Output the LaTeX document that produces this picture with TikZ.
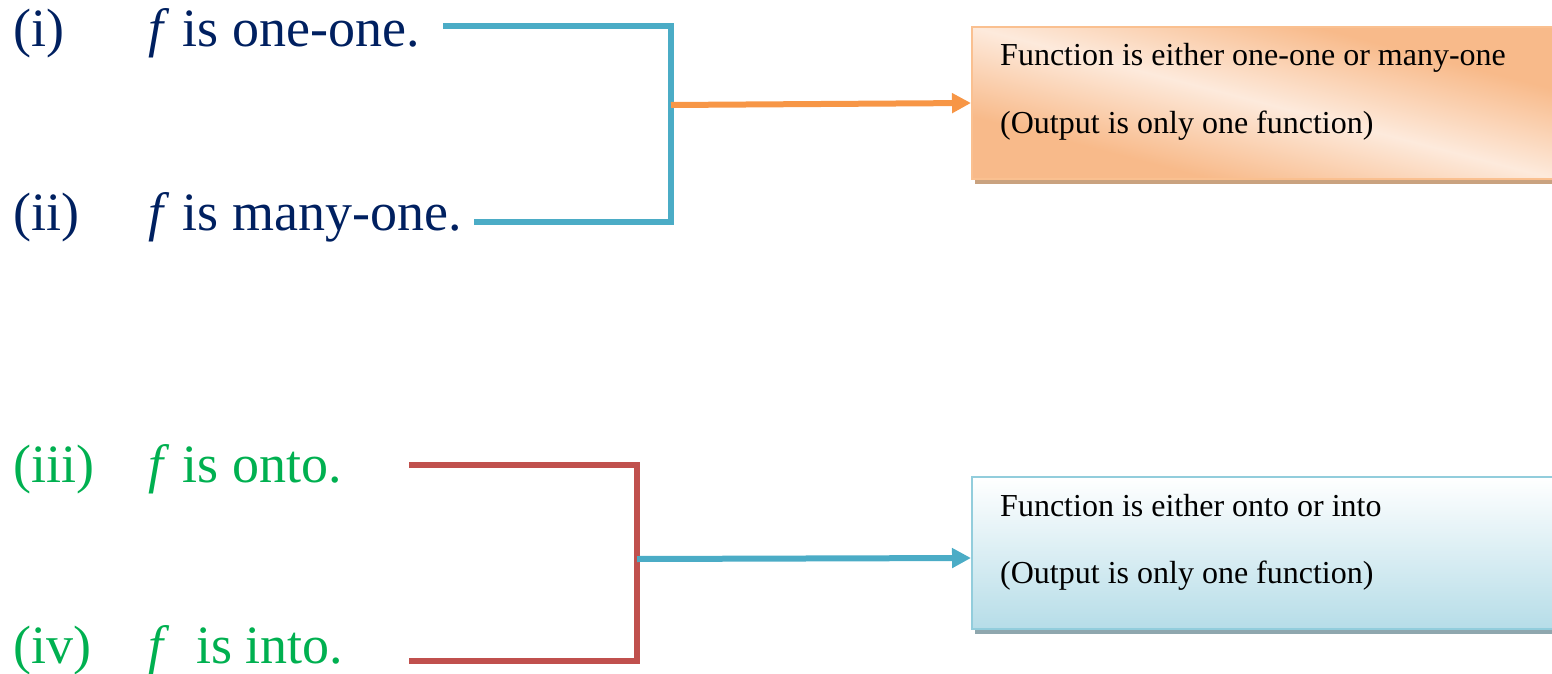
\documentclass[tikz,border=0pt]{standalone}
\usepackage{fontspec}
\setmainfont{Liberation Serif}
\usetikzlibrary{arrows.meta,shadows,shadings}

\definecolor{navytext}{HTML}{002060}
\definecolor{greentext}{HTML}{00B050}
\definecolor{accblue}{HTML}{4BACC6}
\definecolor{accorange}{HTML}{F79646}
\definecolor{accred}{HTML}{C0504D}
\definecolor{peachlight}{HTML}{FDEADC}
\definecolor{peachdark}{HTML}{F8BA8A}
\definecolor{peachedge}{HTML}{FAC090}
\definecolor{peachshadow}{HTML}{C9A27F}
\definecolor{aqualight}{HTML}{FFFFFF}
\definecolor{aquadark}{HTML}{B6DDE8}
\definecolor{aquaedge}{HTML}{92CDDC}
\definecolor{aquashadow}{HTML}{8FA7AE}

% light band running along one diagonal, orange towards the other two corners
\pgfdeclarehorizontalshading{peachband}{100bp}{%
  color(0bp)=(peachdark); color(32bp)=(peachdark);
  color(50bp)=(peachlight);
  color(68bp)=(peachdark); color(100bp)=(peachdark)}

\tikzset{
  bigtext/.style={anchor=base west, inner sep=0pt,
    font=\fontsize{54}{60}\selectfont},
  boxtext/.style={anchor=base west, inner sep=0pt,
    font=\fontsize{32}{36}\selectfont, text=black},
  bracketline/.style={line width=6pt},
  connector/.style={line width=6pt,
    -{Triangle[length=19pt,width=19pt]}},
  resultbox/.style={anchor=north west, inner sep=0pt,
    minimum width=584pt, minimum height=152pt, line width=2pt},
  peachbox/.style={resultbox, draw=peachedge,
    shade, shading=peachband, shading angle=75.4,
    drop shadow={shadow xshift=3pt, shadow yshift=-5pt,
      fill=peachshadow, opacity=1}},
  aquabox/.style={resultbox, draw=aquaedge,
    top color=aqualight, bottom color=aquadark,
    drop shadow={shadow xshift=3pt, shadow yshift=-5pt,
      fill=aquashadow, opacity=1}}
}

\begin{document}
\begin{tikzpicture}[x=1pt, y=-1pt]
  \useasboundingbox (0,0) rectangle (1552,674);

  % first pair of statements
  \node[bigtext, text=navytext] (l1) at (13,47) {(i)};
  \node[bigtext, text=navytext] (s1) at (148,47) {\textit{f} is one-one.};
  \node[bigtext, text=navytext] (l2) at (13,230) {(ii)};
  \node[bigtext, text=navytext] (s2) at (148,230) {\textit{f} is many-one.};

  % second pair of statements
  \node[bigtext, text=greentext] (l3) at (13,482) {(iii)};
  \node[bigtext, text=greentext] (s3) at (148,482) {\textit{f} is onto.};
  \node[bigtext, text=greentext] (l4) at (13,663) {(iv)};
  \node[bigtext, text=greentext] (s4) at (148,663) {\textit{f}\hspace{0.25em} is into.};

  % result boxes
  \node[peachbox] (box1) at (971,26) {};
  \node[boxtext] (r1a) at (1000,66) {Function is either one-one or many-one};
  \node[boxtext] (r1b) at (1000,133) {(Output is only one function)};

  \node[aquabox] (box2) at (971,476) {};
  \node[boxtext] (r2a) at (1000,516) {Function is either onto or into};
  \node[boxtext] (r2b) at (1000,583) {(Output is only one function)};

  % bracket joining (i) and (ii)
  \coordinate (a1) at (443,26);
  \coordinate (a2) at (474,222);
  \coordinate (j1) at (671,105);
  \draw[bracketline, accblue] (a1) -| (j1) |- (a2);
  \draw[connector, accorange] (j1) -- (box1.west);

  % bracket joining (iii) and (iv)
  \coordinate (c1) at (409,465);
  \coordinate (c2) at (409,661);
  \coordinate (j2) at (637,559);
  \draw[bracketline, accred] (c1) -| (j2) |- (c2);
  \draw[connector, accblue] (j2) -- ([yshift=-5pt]box2.west);
\end{tikzpicture}
\end{document}
